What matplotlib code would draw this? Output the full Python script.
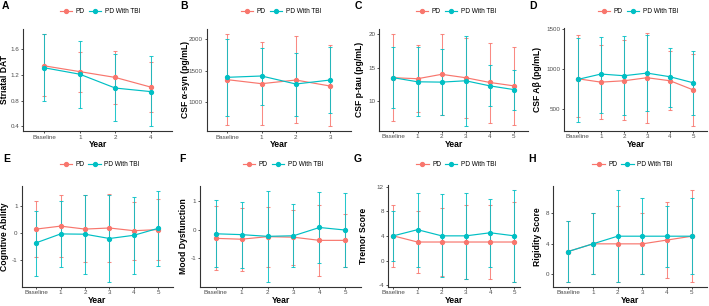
import matplotlib
matplotlib.use("Agg")
import matplotlib.pyplot as plt
from matplotlib.lines import Line2D
import numpy as np

plt.rcParams['font.family'] = ['Liberation Sans', 'DejaVu Sans']

RED = "#F8766D"
CYAN = "#00BFC4"

years4a = ["Baseline", "1", "2", "4"]
years4b = ["Baseline", "1", "2", "3"]
years6 = ["Baseline", "1", "2", "3", "4", "5"]

# A Striatal DAT
a_pd = [1.34, 1.25, 1.16, 1.01]
a_pd_lo = [0.865, 0.94, 0.75, 0.62]
a_pd_hi = [1.83, 1.55, 1.57, 1.40]
a_tbi = [1.31, 1.21, 0.995, 0.94]
a_tbi_lo = [0.80, 0.68, 0.48, 0.40]
a_tbi_hi = [1.84, 1.73, 1.53, 1.49]
a_yticks = [0.4, 0.8, 1.2, 1.6]

# B CSF a-syn
b_pd = [1355, 1291, 1349, 1254]
b_pd_lo = [630, 630, 661, 614]
b_pd_hi = [2085, 1952, 2048, 1910]
b_tbi = [1392, 1413, 1286, 1349]
b_tbi_lo = [772, 958, 783, 831]
b_tbi_hi = [2000, 1862, 1783, 1873]
b_yticks = [1000, 1500, 2000]

# C CSF p-tau
c_pd = [13.5, 13.35, 14.0, 13.5, 12.8, 12.3]
c_pd_lo = [7.1, 8.5, 8.0, 7.6, 6.85, 6.6]
c_pd_hi = [19.9, 18.35, 20.0, 19.3, 18.6, 18.0]
c_tbi = [13.5, 12.9, 12.85, 13.05, 12.3, 11.75]
c_tbi_lo = [9.1, 7.9, 7.95, 6.4, 9.3, 8.8]
c_tbi_hi = [18.0, 18.05, 17.7, 19.6, 15.4, 14.7]
c_yticks = [10, 15, 20]

# D CSF Abeta
d_pd = [874, 832, 849, 887, 849, 735]
d_pd_lo = [400, 374, 353, 320, 479, 286]
d_pd_hi = [1416, 1294, 1353, 1450, 1223, 1189]
d_tbi = [866, 933, 912, 945, 899, 824]
d_tbi_lo = [336, 450, 416, 475, 525, 420]
d_tbi_hi = [1387, 1399, 1408, 1416, 1261, 1227]
d_yticks = [500, 1000, 1500]

# E Cognitive Ability
e_pd = [0.13, 0.24, 0.13, 0.17, 0.07, 0.11]
e_pd_lo = [-0.91, -0.89, -1.09, -1.09, -1.0, -1.0]
e_pd_hi = [1.17, 1.40, 1.40, 1.44, 1.12, 1.23]
e_tbi = [-0.38, -0.05, -0.06, -0.22, -0.10, 0.16]
e_tbi_lo = [-1.60, -1.26, -1.54, -1.84, -1.54, -1.24]
e_tbi_hi = [0.82, 1.17, 1.41, 1.39, 1.34, 1.56]
e_yticks = [-1, 0, 1]

# F Mood Dysfunction
f_pd = [-0.30, -0.33, -0.24, -0.26, -0.37, -0.37]
f_pd_lo = [-1.41, -1.44, -1.30, -1.24, -1.62, -1.30]
f_pd_hi = [0.82, 0.76, 0.80, 0.69, 0.86, 0.55]
f_tbi = [-0.14, -0.17, -0.23, -0.21, 0.08, -0.01]
f_tbi_lo = [-1.31, -1.32, -1.83, -1.31, -1.17, -1.30]
f_tbi_hi = [1.03, 0.97, 1.37, 0.90, 1.32, 1.28]
f_yticks = [-1, 0, 1]

# G Tremor Score
g_pd = [4, 3, 3, 3, 3, 3]
g_pd_lo = [-1, -2, -2.5, -3, -3, -3.5]
g_pd_hi = [9, 8, 8.5, 9, 9, 9.5]
g_tbi = [4, 5, 4, 4, 4.5, 4]
g_tbi_lo = [0, -1, -2.7, -3, -1, -3.5]
g_tbi_hi = [8, 11, 10.8, 11, 10, 11.5]
g_yticks = [-4, 0, 4, 8, 12]

# H Rigidity Score
h_pd = [3, 4, 4, 4, 4.5, 5]
h_pd_lo = [-1, 0, -1, 0, -0.5, -1]
h_pd_hi = [7, 8, 9, 8, 9.5, 11]
h_tbi = [3, 4, 5, 5, 5, 5]
h_tbi_lo = [-1, 0, -1, 0, 1, 0]
h_tbi_hi = [7, 8, 11, 10, 9, 10]
h_yticks = [0, 4, 8]

series_names = ["PD", "PD With TBI"]
panel_letters = ["A", "B", "C", "D", "E", "F", "G", "H"]
ylabels = ["Striatal DAT", "CSF α-syn (pg/mL)", "CSF p-tau (pg/mL)", "CSF Aβ (pg/mL)",
           "Cognitive Ability", "Mood Dysfunction", "Tremor Score", "Rigidity Score"]

panels = [
    (years4a, a_pd, a_pd_lo, a_pd_hi, a_tbi, a_tbi_lo, a_tbi_hi, a_yticks),
    (years4b, b_pd, b_pd_lo, b_pd_hi, b_tbi, b_tbi_lo, b_tbi_hi, b_yticks),
    (years6, c_pd, c_pd_lo, c_pd_hi, c_tbi, c_tbi_lo, c_tbi_hi, c_yticks),
    (years6, d_pd, d_pd_lo, d_pd_hi, d_tbi, d_tbi_lo, d_tbi_hi, d_yticks),
    (years6, e_pd, e_pd_lo, e_pd_hi, e_tbi, e_tbi_lo, e_tbi_hi, e_yticks),
    (years6, f_pd, f_pd_lo, f_pd_hi, f_tbi, f_tbi_lo, f_tbi_hi, f_yticks),
    (years6, g_pd, g_pd_lo, g_pd_hi, g_tbi, g_tbi_lo, g_tbi_hi, g_yticks),
    (years6, h_pd, h_pd_lo, h_pd_hi, h_tbi, h_tbi_lo, h_tbi_hi, h_yticks),
]

W, H = 709, 306
fig = plt.figure(figsize=(W / 100, H / 100), dpi=100)

# axes boxes in pixels: left, right, top, bottom
boxes = [
    (23, 172, 29, 131),
    (206.7, 350.7, 29, 131),
    (379, 528.3, 29, 130.5),
    (564, 707, 28, 130.5),
    (21.5, 173, 186, 286.7),
    (200, 361, 186, 286.7),
    (387.7, 520, 185, 286.7),
    (553.3, 706.7, 185.7, 286.7),
]
xexp = [0.6, 0.6, 0.6, 0.6, 0.6, 0.6, 0.23, 0.6]
ylab_x = [5, 185, 360, 538, 5, 184, 363, 538]
letter_x = [2, 180, 355, 529, 3, 179, 354, 528]

for i, (cats, pm, plo, phi, tm, tlo, thi, yt) in enumerate(panels):
    l, r, t, b = boxes[i]
    ax = fig.add_axes([l / W, 1 - b / H, (r - l) / W, (b - t) / H])
    x = np.arange(len(cats))
    for m, lo, hi, col in ((pm, plo, phi, RED), (tm, tlo, thi, CYAN)):
        m = np.array(m, float)
        lo = np.array(lo, float)
        hi = np.array(hi, float)
        ax.errorbar(x, m, yerr=[m - lo, hi - m], fmt='none', ecolor=col,
                    elinewidth=0.75, capsize=1.6, capthick=0.75, alpha=0.85, zorder=2)
        ax.plot(x, m, color=col, lw=0.85, marker='o', ms=2.8, zorder=3)
    allv = np.concatenate([plo, phi, tlo, thi])
    lo_, hi_ = allv.min(), allv.max()
    rng = hi_ - lo_
    ax.set_ylim(lo_ - 0.05 * rng, hi_ + 0.05 * rng)
    ax.set_xlim(-xexp[i], len(cats) - 1 + xexp[i])
    ax.set_xticks(x)
    ax.set_xticklabels(cats)
    ax.set_yticks(yt)
    ax.set_yticklabels([str(v) for v in yt])
    for s in ("top", "right"):
        ax.spines[s].set_visible(False)
    for s in ("left", "bottom"):
        ax.spines[s].set_color("#333333")
        ax.spines[s].set_linewidth(0.8)
    ax.tick_params(axis='both', length=1.5, width=0.6, color="#333333",
                   labelsize=4.5, labelcolor="#4D4D4D", pad=1.2)
    ax.set_xlabel("Year", fontsize=6.2, fontweight='bold', labelpad=0.5)
    fig.text(ylab_x[i] / W, 1 - ((t + b) / 2) / H, ylabels[i], rotation=90,
             ha='center', va='center', fontsize=6.2, fontweight='bold')
    row_top = 0 if i < 4 else 153
    fig.text(letter_x[i] / W, 1 - (row_top + 6) / H, panel_letters[i],
             ha='left', va='center', fontsize=7.5, fontweight='bold')
    handles = [Line2D([0], [0], color=RED, lw=0.85, marker='o', ms=2.8),
               Line2D([0], [0], color=CYAN, lw=0.85, marker='o', ms=2.8)]
    cx = (l + r) / 2 + 2.5
    cy = row_top + 11.5
    fig.legend(handles, series_names, loc='center', bbox_to_anchor=(cx / W, 1 - cy / H),
               ncol=2, frameon=False, fontsize=4.7, handlelength=1.9,
               handletextpad=0.55, columnspacing=0.6, borderpad=0)

fig.savefig("out.png", dpi=100)
